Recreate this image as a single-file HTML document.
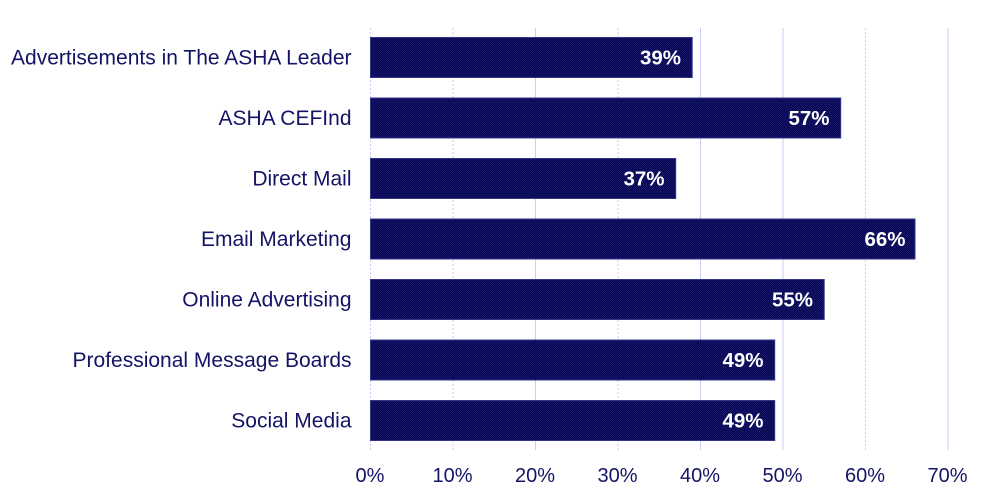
<!DOCTYPE html>
<html>
<head>
<meta charset="utf-8">
<style>
  html, body { margin: 0; padding: 0; background: #ffffff; }
  body { width: 1000px; height: 500px; overflow: hidden; }
  svg { display: block; }
  .cat { font-family: "Liberation Sans", Arial, sans-serif; font-size: 21px; fill: #141466; }
  .tick { font-family: "Liberation Sans", Arial, sans-serif; font-size: 20px; fill: #141466; }
  .val { font-family: "Liberation Sans", Arial, sans-serif; font-size: 20.5px; font-weight: bold; fill: #ffffff; }
</style>
</head>
<body>
<svg width="1000" height="500" viewBox="0 0 1000 500" xmlns="http://www.w3.org/2000/svg">
  <defs>
    <pattern id="dither" width="2" height="2" patternUnits="userSpaceOnUse">
      <rect width="2" height="2" fill="#07074f"/>
      <rect width="1" height="1" fill="#15156c"/>
      <rect x="1" y="1" width="1" height="1" fill="#15156c"/>
    </pattern>
  </defs>

  <!-- gridlines -->
  <g stroke="#cbcbf5" stroke-width="1">
    <line x1="370.5" y1="28" x2="370.5" y2="450" stroke-dasharray="2,2"/>
    <line x1="453" y1="28" x2="453" y2="450" stroke-dasharray="2,2"/>
    <line x1="535.5" y1="28" x2="535.5" y2="450"/>
    <line x1="618" y1="28" x2="618" y2="450" stroke-dasharray="2,2"/>
    <line x1="700.5" y1="28" x2="700.5" y2="450"/>
    <line x1="783" y1="28" x2="783" y2="450"/>
    <line x1="865.5" y1="28" x2="865.5" y2="450" stroke-dasharray="2,2"/>
    <line x1="948" y1="28" x2="948" y2="450"/>
  </g>

  <!-- bars -->
  <g fill="url(#dither)" stroke="#34348a" stroke-width="1">
    <rect x="370.5" y="37.5" width="321.7" height="40"/>
    <rect x="370.5" y="98" width="470.2" height="40"/>
    <rect x="370.5" y="158.5" width="305.2" height="40"/>
    <rect x="370.5" y="219" width="544.5" height="40"/>
    <rect x="370.5" y="279.5" width="453.7" height="40"/>
    <rect x="370.5" y="340" width="404.2" height="40"/>
    <rect x="370.5" y="400.5" width="404.2" height="40"/>
  </g>

  <!-- value labels -->
  <g class="val" text-anchor="end">
    <text x="681" y="64.5">39%</text>
    <text x="829.5" y="125">57%</text>
    <text x="664.5" y="185.5">37%</text>
    <text x="905.5" y="246">66%</text>
    <text x="813" y="306.5">55%</text>
    <text x="763.5" y="367">49%</text>
    <text x="763.5" y="427.5">49%</text>
  </g>

  <!-- category labels -->
  <g class="cat" text-anchor="end">
    <text x="351.5" y="64.5">Advertisements in The ASHA Leader</text>
    <text x="351.5" y="125">ASHA CEFInd</text>
    <text x="351.5" y="185.5">Direct Mail</text>
    <text x="351.5" y="246">Email Marketing</text>
    <text x="351.5" y="306.5">Online Advertising</text>
    <text x="351.5" y="367">Professional Message Boards</text>
    <text x="351.5" y="427.5">Social Media</text>
  </g>

  <!-- x tick labels -->
  <g class="tick" text-anchor="middle">
    <text x="370" y="482">0%</text>
    <text x="452.5" y="482">10%</text>
    <text x="535" y="482">20%</text>
    <text x="617.5" y="482">30%</text>
    <text x="700" y="482">40%</text>
    <text x="782.5" y="482">50%</text>
    <text x="865" y="482">60%</text>
    <text x="947.5" y="482">70%</text>
  </g>
</svg>
</body>
</html>
